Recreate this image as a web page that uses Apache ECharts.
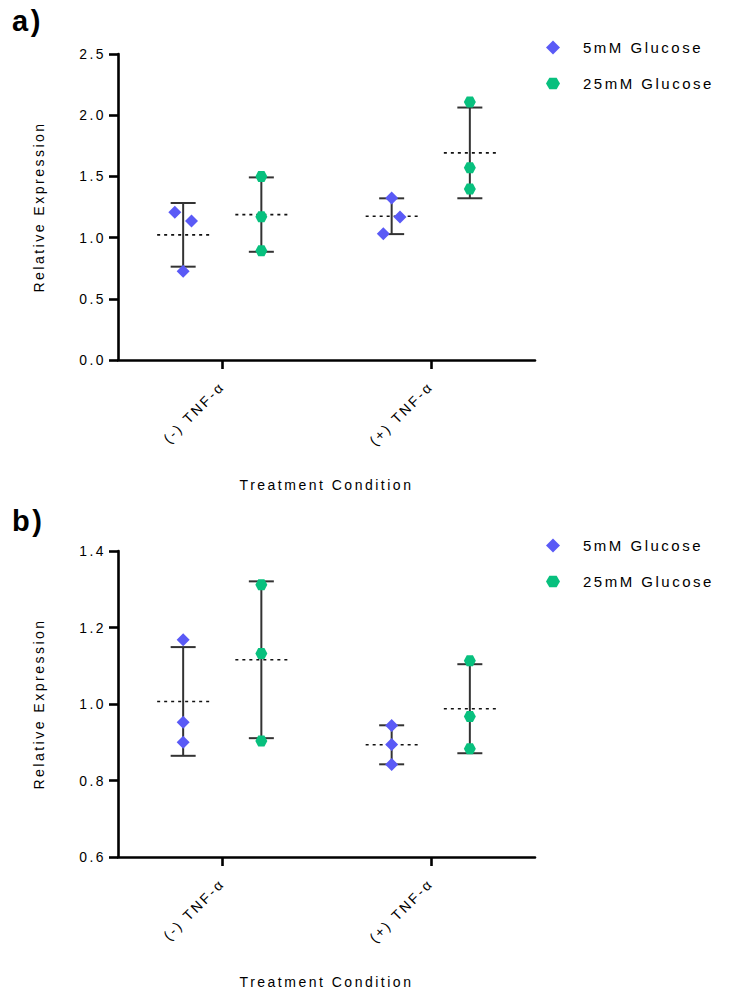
<!DOCTYPE html>
<html>
<head>
<meta charset="utf-8">
<script src="https://cdn.jsdelivr.net/npm/echarts@6/dist/echarts.min.js"></script>
<style>
html,body{margin:0;padding:0;background:#ffffff;}
#chart{width:730px;height:991px;}
#chart text{letter-spacing:2.5px;}
#chart text[style*="font-size:13.9px"]{letter-spacing:1.6px;}
#chart text[style*="font-size:14px"]{letter-spacing:2.8px;}
#chart text[style*="font-size:15px"]{letter-spacing:3.6px;}
#chart text[style*="font-size:29px"]{letter-spacing:0px;}
</style>
</head>
<body>
<div id="chart"></div>
<script>
// ---------------- data ----------------
const categories = ['(-) TNF-α', '(+) TNF-α'];
const seriesNames = ['5mM Glucose', '25mM Glucose'];

// Panel a: replicate values per category
const a_glc5 = [[1.207, 1.136, 0.725], [1.324, 1.168, 1.032]];
const a_glc25 = [[1.500, 1.171, 0.893], [2.108, 1.571, 1.397]];
// Panel b: replicate values per category
const b_glc5 = [[1.168, 0.952, 0.900], [0.944, 0.894, 0.842]];
const b_glc25 = [[1.312, 1.132, 0.903], [1.113, 0.967, 0.883]];

// y-axis tick labels
const a_yTicks = [0.0, 0.5, 1.0, 1.5, 2.0, 2.5];
const b_yTicks = [0.6, 0.8, 1.0, 1.2, 1.4];

const xTitle = 'Treatment Condition';
const yTitle = 'Relative Expression';
const panelLabels = ['a)', 'b)'];

// ---------------- layout / style ----------------
const BLUE = '#5A5AF6';
const GREEN = '#08C07E';
const HEX = 'path://M0,5 L2.9,0 L9.1,0 L12,5 L9.1,10 L2.9,10 Z';
const FONT = 'Liberation Sans, Arial, Helvetica, sans-serif';
const DODGE = 0.1875;          // group offset in category units
const JIT = 0.04;              // jitter step in category units
// jitter pattern (layout only) per panel / series / category
const jitter = {
  a5: [[-1, 1, 0], [0, 1, -1]],
  a25: [[0, 0, 0], [0, 0, 0]],
  b5: [[0, 0, 0], [0, 0, 0]],
  b25: [[0, 0, 0], [0, 0, 0]]
};

function mean(a) { return a.reduce((s, v) => s + v, 0) / a.length; }
function sd(a) { const m = mean(a); return Math.sqrt(a.reduce((s, v) => s + (v - m) * (v - m), 0) / (a.length - 1)); }

function points(groups, off, jit) {
  const out = [];
  groups.forEach((vals, ci) => vals.forEach((v, k) => out.push([ci + off + jit[ci][k] * JIT, v])));
  return out;
}
function stats(groups, off) {
  return groups.map((vals, ci) => [ci + off, mean(vals), sd(vals)]);
}

function renderErr(params, api) {
  const x = api.value(0), m = api.value(1), s = api.value(2);
  const c = api.coord([x, m]);
  const t = api.coord([x, m + s]);
  const b = api.coord([x, m - s]);
  const capW = 12.5, meanW = 26;
  const ls = { stroke: '#333333', lineWidth: 2 };
  return {
    type: 'group',
    children: [
      { type: 'line', shape: { x1: t[0], y1: t[1], x2: b[0], y2: b[1] }, style: ls },
      { type: 'line', shape: { x1: t[0] - capW, y1: t[1], x2: t[0] + capW, y2: t[1] }, style: ls },
      { type: 'line', shape: { x1: b[0] - capW, y1: b[1], x2: b[0] + capW, y2: b[1] }, style: ls },
      { type: 'line', shape: { x1: c[0] - meanW, y1: c[1], x2: c[0] + meanW, y2: c[1] },
        style: { stroke: '#111111', lineWidth: 1.6, lineDash: [3, 4] } }
    ]
  };
}

function step(t) { return Math.round((t[1] - t[0]) * 1e6) / 1e6; }

const grids = [
  { left: 118, right: 195, top: 54, height: 306 },
  { left: 118, right: 195, top: 551, height: 306 }
];

function catAxis(gi) {
  return {
    type: 'category', gridIndex: gi, data: categories, boundaryGap: true,
    axisLine: { show: true, onZero: false, lineStyle: { color: '#000', width: 2.6 } },
    axisTick: { show: true, alignWithLabel: true, length: 9, lineStyle: { color: '#000', width: 2.6 } },
    axisLabel: { rotate: 45, margin: 24, fontSize: 14, color: '#000', fontFamily: FONT },
    splitLine: { show: false },
    name: xTitle, nameLocation: 'middle', nameGap: 118,
    nameTextStyle: { fontSize: 14, color: '#000', fontFamily: FONT }
  };
}
function valXAxis(gi) {
  return { type: 'value', gridIndex: gi, min: -0.5, max: 1.5, show: false,
           axisLine: { onZero: false } };
}
function yAxis(gi, ticks) {
  return {
    type: 'value', gridIndex: gi, min: ticks[0], max: ticks[ticks.length - 1], interval: step(ticks),
    axisLine: { show: true, onZero: false, lineStyle: { color: '#000', width: 2.6 } },
    axisTick: { show: true, length: 9, lineStyle: { color: '#000', width: 2.6 } },
    axisLabel: { margin: 12, fontSize: 13.9, color: '#000', fontFamily: FONT, formatter: v => v.toFixed(1) },
    splitLine: { show: false },
    name: yTitle, nameLocation: 'middle', nameGap: 72,
    nameTextStyle: { fontSize: 14, color: '#000', fontFamily: FONT }
  };
}

function legend(top) {
  return {
    orient: 'vertical', left: 546, top: top, itemWidth: 14, itemHeight: 14, itemGap: 21, padding: 0,
    data: [{ name: seriesNames[0], icon: 'diamond' }, { name: seriesNames[1], icon: HEX }],
    textStyle: { fontSize: 15, color: '#000', fontFamily: FONT, padding: [0, 0, 0, 18] }
  };
}

function panelSeries(xi, yi, g5, g25, j5, j25) {
  return [
    { type: 'custom', xAxisIndex: xi, yAxisIndex: yi, renderItem: renderErr, data: stats(g5, -DODGE), z: 2, silent: true },
    { type: 'custom', xAxisIndex: xi, yAxisIndex: yi, renderItem: renderErr, data: stats(g25, DODGE), z: 2, silent: true },
    { type: 'scatter', name: seriesNames[0], xAxisIndex: xi, yAxisIndex: yi, symbol: 'diamond', symbolSize: 13,
      itemStyle: { color: BLUE, opacity: 1 }, data: points(g5, -DODGE, j5), z: 3 },
    { type: 'scatter', name: seriesNames[1], xAxisIndex: xi, yAxisIndex: yi, symbol: HEX, symbolSize: [12, 11],
      itemStyle: { color: GREEN, opacity: 1 }, data: points(g25, DODGE, j25), z: 3 }
  ];
}

const chart = echarts.init(document.getElementById('chart'), null, { renderer: 'svg' });
chart.setOption({
  animation: false,
  backgroundColor: '#ffffff',
  grid: grids,
  xAxis: [catAxis(0), valXAxis(0), catAxis(1), valXAxis(1)],
  yAxis: [yAxis(0, a_yTicks), yAxis(1, b_yTicks)],
  legend: [legend(40), legend(538)],
  graphic: [
    { type: 'text', left: 12, top: 6, style: { text: panelLabels[0], fontSize: 29, fontWeight: 'bold', fontFamily: FONT, fill: '#000' } },
    { type: 'text', left: 12, top: 506, style: { text: panelLabels[1], fontSize: 29, fontWeight: 'bold', fontFamily: FONT, fill: '#000' } }
  ],
  series: [].concat(
    panelSeries(1, 0, a_glc5, a_glc25, jitter.a5, jitter.a25),
    panelSeries(3, 1, b_glc5, b_glc25, jitter.b5, jitter.b25)
  )
});
</script>
</body>
</html>
